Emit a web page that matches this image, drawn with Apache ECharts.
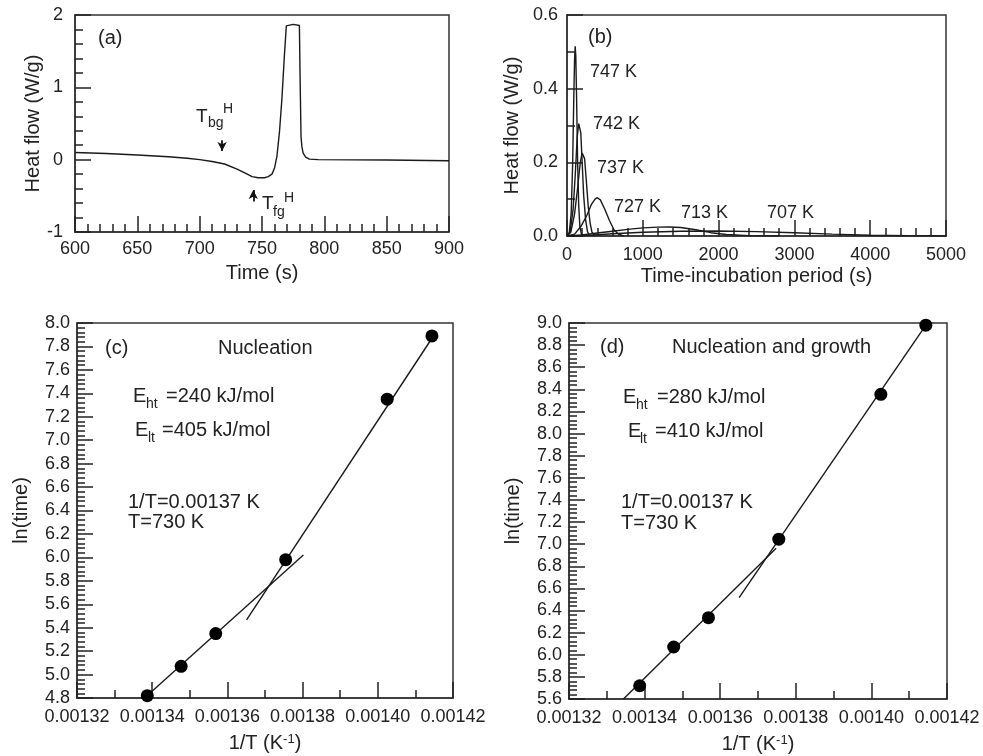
<!DOCTYPE html>
<html>
<head>
<meta charset="utf-8">
<script src="https://cdn.jsdelivr.net/npm/echarts@6/dist/echarts.min.js"></script>
<style>
  html, body { margin: 0; padding: 0; background: #fff; }
  #main { width: 983px; height: 756px; }
</style>
</head>
<body>
<div id="main"></div>
<script>
// (a) DSC trace: [time s, heat flow W/g]
var dscCurve = [
  [600, 0.10], [625, 0.085], [650, 0.065], [675, 0.04], [690, 0.02], [700, 0.0],
  [710, -0.025], [720, -0.06], [730, -0.13], [737, -0.19], [742, -0.235], [747, -0.25],
  [752, -0.25], [755, -0.235], [758, -0.2], [760, -0.12], [762, 0.05], [764, 0.38],
  [766, 0.85], [768, 1.45], [769.5, 1.85], [770, 1.875], [775, 1.87], [780, 1.855],
  [780.5, 1.2], [781.3, 0.32], [782, 0.18], [783, 0.09], [785, 0.035], [788, 0.008],
  [795, 0.0], [850, -0.005], [900, -0.015]
];
// arrows marking T_bg^H and T_fg^H: [time, from, to]
var tbgArrow = [718, 0.27, 0.12];
var tfgArrow = [743, -0.58, -0.42];

// (b) isothermal peaks: [time - incubation s, heat flow W/g]
var iso747 = [[0, 0], [30, 0.01], [55, 0.06], [75, 0.2], [90, 0.38], [100, 0.48], [108, 0.515],
  [116, 0.49], [126, 0.38], [140, 0.2], [155, 0.08], [170, 0.025], [190, 0.005], [230, 0]];
var iso742 = [[0, 0], [40, 0.01], [80, 0.07], [110, 0.17], [135, 0.27], [155, 0.305], [168, 0.31],
  [182, 0.28], [200, 0.2], [220, 0.11], [245, 0.045], [270, 0.012], [300, 0]];
var iso737 = [[0, 0], [50, 0.01], [100, 0.06], [140, 0.13], [175, 0.2], [200, 0.225], [215, 0.228],
  [232, 0.21], [255, 0.15], [280, 0.08], [305, 0.035], [330, 0.01], [370, 0]];
var iso727 = [[0, 0], [100, 0.005], [180, 0.025], [260, 0.055], [320, 0.085], [370, 0.1], [400, 0.104],
  [440, 0.098], [500, 0.072], [560, 0.042], [620, 0.017], [680, 0.005], [750, 0]];
var iso713 = [[0, 0], [200, 0.003], [400, 0.008], [600, 0.013], [800, 0.018], [1000, 0.022],
  [1200, 0.024], [1350, 0.0245], [1500, 0.023], [1700, 0.017], [1900, 0.009], [2100, 0.004],
  [2400, 0.001], [2800, 0]];
var iso707 = [[0, 0], [300, 0.002], [600, 0.006], [1000, 0.01], [1500, 0.013], [2000, 0.0135],
  [2500, 0.012], [3000, 0.009], [3500, 0.005], [4000, 0.002], [4500, 0.0005], [5000, 0]];
var isoLabels = ['747 K', '742 K', '737 K', '727 K', '713 K', '707 K'];

// (c) and (d): 1/T (K^-1) vs ln(time)
var invT = [0.0013387, 0.0013477, 0.0013569, 0.0013755, 0.0014025, 0.0014144];
var lnNucleation = [4.82, 5.07, 5.35, 5.98, 7.35, 7.89];
var lnGrowth = [5.72, 6.07, 6.335, 7.045, 8.355, 8.98];
var fitNucHigh = [[0.001339, 4.83], [0.0013802, 6.02]];
var fitNucLow = [[0.0013651, 5.466], [0.0014148, 7.889]];
var fitGroHigh = [[0.0013344, 5.6], [0.0013748, 6.963]];
var fitGroLow = [[0.001365, 6.516], [0.0014144, 8.98]];

// axis ranges per panel: [min, max, major step, minor splits]
var xRanges = [[600, 900, 50, 5], [0, 5000, 1000, 5], [0.00132, 0.00142, 0.00002, 2], [0.00132, 0.00142, 0.00002, 2]];
var yRanges = [[-1, 2, 1, 5], [0, 0.6, 0.2, 2], [4.8, 8.0, 0.2, 5], [5.6, 9.0, 0.2, 5]];

var FONT = '"Liberation Sans", Arial, sans-serif';
var INK = '#1a1a1a';
var TICK_COLOR = '#222';

function zip(xs, ys) {
  return xs.map(function (x, i) { return [x, ys[i]]; });
}

function axisBase(r, opts) {
  return Object.assign({
    type: 'value',
    min: r[0], max: r[1], interval: r[2],
    nameLocation: 'middle',
    nameTextStyle: { fontFamily: FONT, fontSize: 20, color: '#222',
      rich: { sup: { fontFamily: FONT, fontSize: 13, color: '#222', verticalAlign: 'top' } } },
    axisLine: { show: true, onZero: false, lineStyle: { color: '#333', width: 1.5 } },
    axisTick: { show: true, inside: true, length: 16, lineStyle: { color: TICK_COLOR, width: 1.5 } },
    minorTick: { show: true, splitNumber: r[3], length: 8, lineStyle: { color: TICK_COLOR, width: 1.5 } },
    axisLabel: { fontFamily: FONT, fontSize: 18, color: '#222' },
    splitLine: { show: false }
  }, opts);
}

function label(margin, fmt) {
  return { fontFamily: FONT, fontSize: 18, color: '#222', margin: margin, formatter: fmt };
}
var plain = function (v) { return String(v); };
var fix1 = function (v) { return v.toFixed(1); };
var fix5 = function (v) { return v.toFixed(5); };

var grids = [
  { left: 75, top: 15, width: 374, height: 217 },
  { left: 567, top: 15, width: 379, height: 221 },
  { left: 77, top: 323, width: 376, height: 375 },
  { left: 569, top: 323, width: 378, height: 376 }
].map(function (g) {
  return Object.assign({ show: true, borderColor: '#333', borderWidth: 1.5 }, g);
});

var xNames = ['Time (s)', 'Time-incubation period (s)', '1/T (K{sup|-1})', '1/T (K{sup|-1})'];
var xGaps = [31, 30, 35, 35];
var xMargins = [8, 10, 10, 10];
var xFmt = [plain, plain, fix5, fix5];
var yNames = ['Heat flow (W/g)', 'Heat flow (W/g)', 'ln(time)', 'ln(time)'];
var yGaps = [30, 45, 46, 46];
var yMargins = [12, 9, 7, 7];
var yFmt = [plain, fix1, fix1, fix1];

var xAxes = xRanges.map(function (r, i) {
  return axisBase(r, { gridIndex: i, name: xNames[i], nameGap: xGaps[i],
    axisLabel: label(xMargins[i], xFmt[i]) });
});
var yAxes = yRanges.map(function (r, i) {
  return axisBase(r, { gridIndex: i, name: yNames[i], nameGap: yGaps[i],
    axisLabel: label(yMargins[i], yFmt[i]) });
});

function curve(data, idx) {
  return {
    type: 'line', xAxisIndex: idx, yAxisIndex: idx, data: data,
    showSymbol: false, smooth: false,
    lineStyle: { color: INK, width: 1.4 }
  };
}

function dots(data, idx) {
  return {
    type: 'line', xAxisIndex: idx, yAxisIndex: idx, data: data,
    lineStyle: { width: 0, opacity: 0 },
    symbol: 'circle', symbolSize: 13, showSymbol: true,
    itemStyle: { color: '#000', borderWidth: 0 }, z: 5
  };
}

function arrow(a) {
  return [{ coord: [a[0], a[1]] }, { coord: [a[0], a[2]] }];
}

var dsc = curve(dscCurve, 0);
dsc.markLine = {
  silent: true, symbol: ['none', 'arrow'], symbolSize: [7, 9],
  label: { show: false },
  lineStyle: { color: '#111', width: 1.8, type: 'solid' },
  data: [arrow(tbgArrow), arrow(tfgArrow)]
};

var series = [
  dsc,
  curve(iso747, 1), curve(iso742, 1), curve(iso737, 1),
  curve(iso727, 1), curve(iso713, 1), curve(iso707, 1),
  curve(fitNucHigh, 2), curve(fitNucLow, 2), dots(zip(invT, lnNucleation), 2),
  curve(fitGroHigh, 3), curve(fitGroLow, 3), dots(zip(invT, lnGrowth), 3)
];

// annotation text as title blocks; y is the text's vertical centre
function txt(text, x, y, size) {
  size = size || 20;
  return {
    text: text, left: x, top: y - size / 2, padding: 0, itemGap: 0,
    textStyle: { fontFamily: FONT, fontSize: size, fontWeight: 'normal', color: '#222', lineHeight: size }
  };
}

var isoLabelPos = [[590, 72], [593, 124], [597, 168], [614, 207], [681, 213], [767, 213]];

var notes = [
  // (a)
  txt('(a)', 98, 38),
  txt('T', 196, 117, 19), txt('bg', 208, 123, 14), txt('H', 223, 109, 14),
  txt('T', 262, 204, 19), txt('fg', 273, 212, 14), txt('H', 284, 198, 14),
  // (b)
  txt('(b)', 588, 37),
  // (c)
  txt('(c)', 105, 348), txt('Nucleation', 218, 348),
  txt('E', 133, 396), txt('ht', 146, 404, 14), txt('=240 kJ/mol', 166, 396),
  txt('E', 135, 430), txt('lt', 148, 438, 14), txt('=405 kJ/mol', 162, 430),
  txt('1/T=0.00137 K', 128, 502), txt('T=730 K', 128, 522),
  // (d)
  txt('(d)', 600, 347), txt('Nucleation and growth', 672, 347),
  txt('E', 623, 397), txt('ht', 636, 405, 14), txt('=280 kJ/mol', 657, 397),
  txt('E', 628, 431), txt('lt', 640, 439, 14), txt('=410 kJ/mol', 655, 431),
  txt('1/T=0.00137 K', 621, 502), txt('T=730 K', 621, 523)
].concat(isoLabels.map(function (l, i) {
  return txt(l, isoLabelPos[i][0], isoLabelPos[i][1], 18);
}));

var chart = echarts.init(document.getElementById('main'));
chart.setOption({
  animation: false,
  title: notes,
  grid: grids,
  xAxis: xAxes,
  yAxis: yAxes,
  series: series
});
</script>
</body>
</html>
